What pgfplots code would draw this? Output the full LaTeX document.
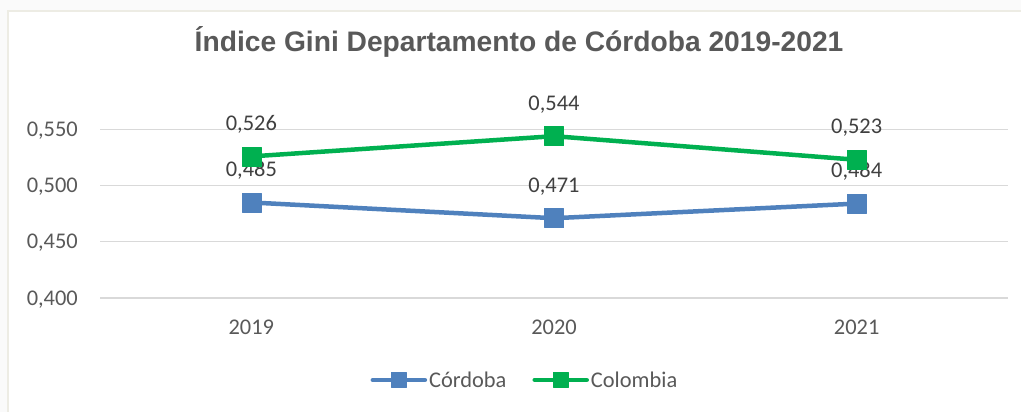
\documentclass[border=0pt]{standalone}
\usepackage{pgfplots}
\pgfplotsset{compat=1.18}
\usepackage{fontspec}
\setmainfont{Carlito}
\newfontfamily\titlefont{Liberation Sans}
\definecolor{cblue}{HTML}{4F81BD}
\definecolor{cgreen}{HTML}{00B050}
\definecolor{tickgray}{HTML}{595959}
\definecolor{labgray}{HTML}{404040}
\definecolor{gridgray}{HTML}{D9D9D9}
\definecolor{bordcol}{HTML}{EDECE4}
\definecolor{outbg}{HTML}{FAFAFA}
\begin{document}
\begin{tikzpicture}
\path[use as bounding box] (0,0) rectangle (1021bp,412bp);
\clip (0,0) rectangle (1021bp,412bp);
\fill[outbg] (0,0) rectangle (1021bp,412bp);
\draw[bordcol, line width=1.2bp, fill=white] (8bp,-10bp) rectangle (1040bp,401bp);
\begin{axis}[
  at={(100bp,114bp)}, anchor=south west,
  scale only axis, width=908bp, height=179.8bp,
  xmin=-0.5, xmax=2.5, ymin=0.4, ymax=0.56,
  clip=false,
  axis line style={draw=none},
  major tick length=0pt,
  xtick={0,1,2}, xticklabels={2019,2020,2021},
  ytick={0.4,0.45,0.5,0.55},
  ymajorgrids, grid style={gridgray, line width=1.1bp},
  /pgf/number format/.cd, fixed, fixed zerofill, precision=3, use comma, assume math mode=true,
  /pgfplots/.cd,
  y tick label style={anchor=base east, inner sep=0pt, xshift=-22bp, yshift=-7bp, font=\fontsize{22.5}{27}\selectfont, text=tickgray},
  x tick label style={anchor=base, inner sep=0pt, yshift=-36bp, font=\fontsize{22.5}{27}\selectfont, text=tickgray},
  title={Índice Gini Departamento de Córdoba 2019-2021},
  title style={at={(axis description cs:0.4615,1.340)}, anchor=base, inner sep=0pt, font=\titlefont\bfseries\fontsize{28.3}{34}\selectfont, text=tickgray},
  nodes near coords,
  every node near coord/.append style={anchor=base, inner sep=0pt, yshift=26bp, font=\fontsize{22.5}{27}\selectfont, text=labgray, /pgf/number format/fixed, /pgf/number format/fixed zerofill, /pgf/number format/precision=3, /pgf/number format/use comma},
  legend columns=2,
  legend style={at={(axis description cs:0.468,-0.456)}, anchor=center, draw=none, fill=none, font=\fontsize{22.5}{27}\selectfont, text=tickgray, /tikz/every even column/.append style={column sep=24bp}, inner sep=0pt},
  legend image code/.code={\draw[line cap=round, mark repeat=2, mark phase=2, mark size=7.5bp] plot coordinates {(0bp,0bp) (26bp,0bp) (52bp,0bp)};},
]
\addplot[cblue, line width=4.5bp, line join=round, mark=square*, mark size=9.5bp, mark options={solid, fill=cblue, draw=cblue, line width=0.5bp}]
  coordinates {(0,0.485) (1,0.471) (2,0.484)};
\addlegendentry{Córdoba}
\addplot[cgreen, line width=4.5bp, line join=round, mark=square*, mark size=9.5bp, mark options={solid, fill=cgreen, draw=cgreen, line width=0.5bp}]
  coordinates {(0,0.526) (1,0.544) (2,0.523)};
\addlegendentry{Colombia}
\end{axis}
\end{tikzpicture}
\end{document}
